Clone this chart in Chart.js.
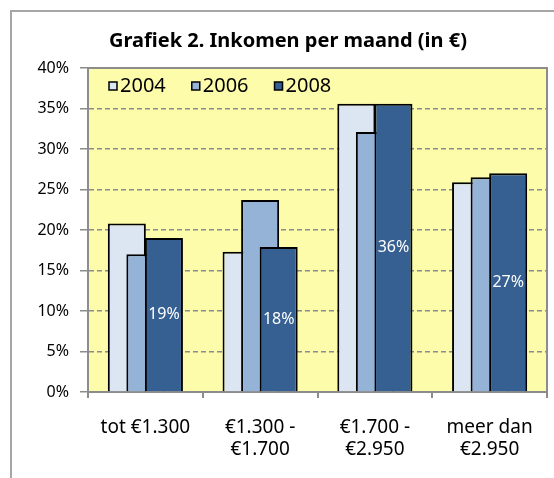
<!DOCTYPE html>
<html>
<head>
<meta charset="utf-8">
<script src="https://cdn.jsdelivr.net/npm/chart.js@4/dist/chart.umd.min.js"></script>
<style>
  body { margin: 0; background: #fff; }
  #kader { position: absolute; left: 10px; top: 10px; width: 600px; height: 600px; border: 2px solid #a6a6a6; }
  #grafiek { position: absolute; left: 0; top: 0; }
</style>
</head>
<body>
<div id="kader"></div>
<canvas id="grafiek" width="554" height="478"></canvas>
<script>
const categorieen = [['tot €1.300'], ['€1.300 -', '€1.700'], ['€1.700 -', '€2.950'], ['meer dan', '€2.950']];
const jaren = ['2004', '2006', '2008'];
const waarden2004 = [20.8, 17.3, 35.6, 25.9];
const waarden2006 = [17.0, 23.7, 32.1, 26.5];
const waarden2008 = [19.0, 17.9, 35.6, 27.0];
const labels2008 = ['19%', '18%', '36%', '27%'];
const kleuren = ['#dce6f2', '#95b3d7', '#366092'];

const lettertype = "'Noto Sans', sans-serif";

// achtergrond en rand van het plotvlak, plus legenda binnen het vlak
const plotVlak = {
    id: 'plotVlak',
    beforeDraw(chart) {
        const { ctx, chartArea: a } = chart;
        ctx.save();
        ctx.fillStyle = '#fcfcab';
        ctx.fillRect(a.left, a.top, a.right - a.left, a.bottom - a.top);
        ctx.restore();
    },
    afterDraw(chart) {
        const { ctx, chartArea: a } = chart;
        ctx.save();
        ctx.strokeStyle = '#8c8c8c';
        ctx.lineWidth = 2;
        ctx.beginPath();
        ctx.moveTo(a.left, a.top);
        ctx.lineTo(a.right, a.top);
        ctx.lineTo(a.right, a.bottom);
        ctx.stroke();

        // legenda
        ctx.font = '20px ' + lettertype;
        ctx.textBaseline = 'middle';
        ctx.textAlign = 'left';
        let x = a.left + 21;
        const y = a.top + 18;
        chart.data.datasets.forEach(ds => {
            ctx.fillStyle = ds.backgroundColor;
            ctx.fillRect(x, y - 4, 8, 8);
            ctx.strokeStyle = '#000';
            ctx.lineWidth = 1.5;
            ctx.strokeRect(x, y - 4, 8, 8);
            ctx.fillStyle = '#000';
            ctx.fillText(ds.label, x + 11, y);
            x += 11 + ctx.measureText(ds.label).width + 26;
        });
        ctx.restore();
    }
};

// 2008 bovenop tekenen, daarna de percentages
const tekenVolgorde = {
    id: 'tekenVolgorde',
    beforeDatasetsDraw(chart) {
        chart.data.datasets.forEach((ds, i) => {
            chart.getDatasetMeta(i).controller.draw();
        });
        const ctx = chart.ctx;
        const meta = chart.getDatasetMeta(2);
        ctx.save();
        ctx.fillStyle = '#ffffff';
        ctx.font = '16px ' + lettertype;
        ctx.textAlign = 'center';
        ctx.textBaseline = 'middle';
        meta.data.forEach((bar, i) => {
            ctx.fillText(labels2008[i], bar.x, (bar.y + bar.base) / 2);
        });
        ctx.restore();
        return false;
    }
};

new Chart(document.getElementById('grafiek'), {
    type: 'bar',
    data: {
        labels: categorieen,
        datasets: [
            { label: jaren[0], data: waarden2004, backgroundColor: kleuren[0] },
            { label: jaren[1], data: waarden2006, backgroundColor: kleuren[1] },
            { label: jaren[2], data: waarden2008, backgroundColor: kleuren[2] }
        ].map(d => Object.assign(d, { borderColor: '#000', borderWidth: 2, categoryPercentage: 0.485, barPercentage: 2.05 }))
    },
    options: {
        responsive: false,
        animation: false,
        layout: { padding: { top: 29, left: 29, right: 7, bottom: 0 } },
        plugins: {
            title: {
                display: true,
                text: 'Grafiek 2. Inkomen per maand (in €)',
                color: '#000',
                font: { family: lettertype, size: 20, weight: 'bold', lineHeight: 1.2 },
                padding: { top: 0, bottom: 15 }
            },
            legend: { display: false },
            tooltip: { enabled: false }
        },
        scales: {
            x: {
                grid: { offset: true, drawOnChartArea: false, color: '#8c8c8c', tickLength: 6, lineWidth: 2 },
                border: { color: '#8c8c8c', width: 2 },
                ticks: { color: '#000', font: { family: lettertype, size: 19, lineHeight: 1.15 }, padding: 19, maxRotation: 0 },
                afterFit(scale) { scale.height = 86; }
            },
            y: {
                min: 0,
                max: 40,
                grid: { color: '#8c8c8c', lineWidth: 1.5, tickLength: 8 },
                border: { color: '#8c8c8c', width: 2, dash: [5, 3] },
                ticks: { stepSize: 5, color: '#000', font: { family: lettertype, size: 16 }, padding: 11, callback: v => v + '%' },
                afterFit(scale) { scale.width = 59; }
            }
        }
    },
    plugins: [plotVlak, tekenVolgorde]
});
</script>
</body>
</html>
